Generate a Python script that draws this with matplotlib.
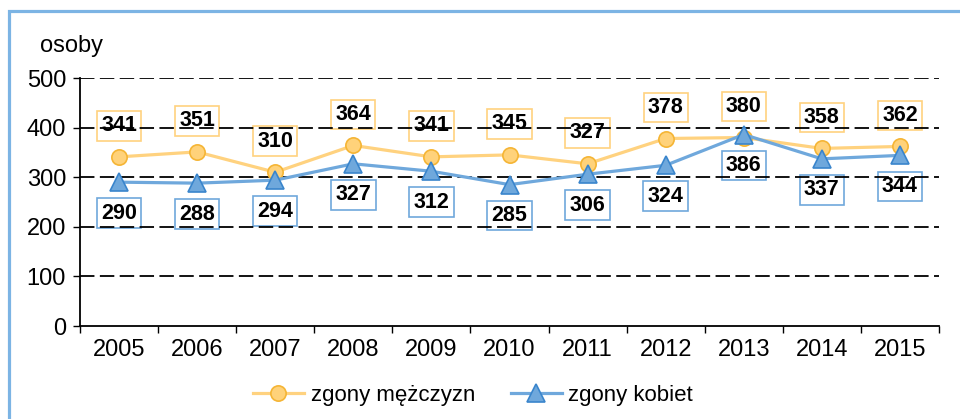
import matplotlib
matplotlib.use('Agg')
import matplotlib.pyplot as plt
from matplotlib.patches import Rectangle
import numpy as np

plt.rcParams['font.family'] = ['Liberation Sans', 'DejaVu Sans']

years = ['2005', '2006', '2007', '2008', '2009', '2010', '2011', '2012', '2013', '2014', '2015']
men = [341, 351, 310, 364, 341, 345, 327, 378, 380, 358, 362]
women = [290, 288, 294, 327, 312, 285, 306, 324, 386, 337, 344]

men_line = '#FFD27F'
men_face = '#FFD27A'
men_edge = '#F5B535'
wom_line = '#6FA8DC'
wom_face = '#6FA8DC'
wom_edge = '#3A85CC'

fig = plt.figure(figsize=(9.6, 4.19), dpi=100)
ax = fig.add_axes([80 / 960, 1 - 326 / 419, (939 - 80) / 960, (326 - 78) / 419])

x = np.arange(len(years))

# dashed grid
for v in [100, 200, 300, 400, 500]:
    ax.axhline(v, color='black', lw=1.3, dashes=(8, 3), zorder=1)

ax.plot(x, men, color=men_line, lw=2.3, marker='o', ms=11,
        mfc=men_face, mec=men_edge, mew=1.2, label='zgony mężczyzn', zorder=3)
ax.plot(x, women, color=wom_line, lw=2.3, marker='^', ms=12.5,
        mfc=wom_face, mec=wom_edge, mew=1.2, label='zgony kobiet', zorder=4)

for i in range(len(years)):
    ax.annotate(str(men[i]), (x[i], men[i]), xytext=(0, 22.3), textcoords='offset points',
                ha='center', va='center', fontsize=15.5, fontweight='bold', zorder=0,
                bbox=dict(boxstyle='square,pad=0.2', fc='none', ec=men_line, lw=1.2))
    ax.annotate(str(women[i]), (x[i], women[i]), xytext=(0, -22.3), textcoords='offset points',
                ha='center', va='center', fontsize=15.5, fontweight='bold', zorder=0,
                bbox=dict(boxstyle='square,pad=0.2', fc='none', ec=wom_line, lw=1.2))

ax.set_xlim(-0.5, len(years) - 0.5)
ax.set_ylim(0, 500)
ax.set_yticks([0, 100, 200, 300, 400, 500])
ax.tick_params(axis='y', labelsize=17, length=5, width=1, direction='out', pad=5)

ax.set_xticks(np.arange(-0.5, len(years), 1))
ax.set_xticklabels([])
ax.set_xticks(x, minor=True)
ax.set_xticklabels(years, minor=True)
ax.tick_params(axis='x', which='major', length=5, width=1, direction='out')
ax.tick_params(axis='x', which='minor', length=0, labelsize=17, pad=9)

for s in ['top', 'right']:
    ax.spines[s].set_visible(False)
for s in ['left', 'bottom']:
    ax.spines[s].set_linewidth(1.3)
    ax.spines[s].set_zorder(5)

fig.text(40 / 960, 1 - 46 / 419, 'osoby', fontsize=17, va='center', ha='left')

fig.legend(loc='center', bbox_to_anchor=(473 / 960, 1 - 395 / 419), ncol=2,
           frameon=False, fontsize=16, handlelength=2.3, handletextpad=0.3,
           columnspacing=1.6)

# outer frame
fig.patches.append(Rectangle((9 / 960, -0.1), 1.2, 1 - 11 / 419 + 0.1,
                             transform=fig.transFigure, fill=False,
                             ec='#7CB4E4', lw=2.3))

fig.savefig('out.png', dpi=100)
